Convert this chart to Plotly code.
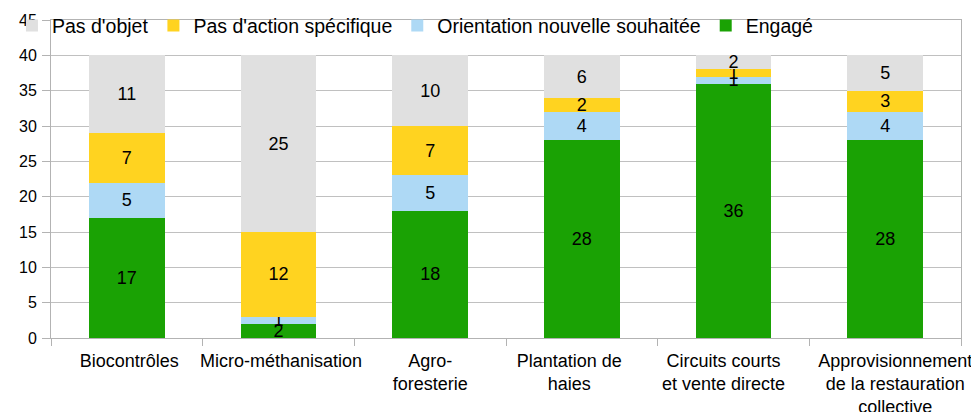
import plotly.graph_objects as go

categories = ["Biocontrôles", "Micro-méthanisation", "Agro-<br>foresterie",
              "Plantation de<br>haies", "Circuits courts<br>et vente directe",
              "Approvisionnement<br>de la restauration<br>collective"]
engage = [17, 2, 18, 28, 36, 28]
orientation = [5, 1, 5, 4, 1, 4]
pas_action = [7, 12, 7, 2, 1, 3]
pas_objet = [11, 25, 10, 6, 2, 5]

series = [
    ("Engagé", engage, "#1aa204"),
    ("Orientation nouvelle souhaitée", orientation, "#aed9f5"),
    ("Pas d'action spécifique", pas_action, "#ffd320"),
    ("Pas d'objet", pas_objet, "#e0e0e0"),
]

# label nudges (style only): (leading, trailing) non-breaking spaces per line
label_pad = [(1, 0), (1, 0), (0, 0), (0, 5), (0, 4), (4, 0)]


def padded(label, pad):
    lead, trail = pad
    return "<br>".join("&nbsp;" * lead + line + "&nbsp;" * trail
                       for line in label.split("<br>"))


ticktext = [padded(c, p) for c, p in zip(categories, label_pad)]

FONT = "Liberation Sans, Arial, sans-serif"
fig = go.Figure()
for name, vals, col in series:
    fig.add_trace(go.Bar(
        x=categories, y=vals, name=name, marker_color=col, marker_line_width=0,
        text=[str(v) for v in vals], textposition="inside", insidetextanchor="middle",
        textangle=0, textfont=dict(size=18, color="#000000", family=FONT),
        hoverinfo="skip",
    ))

fig.update_layout(
    barmode="stack", bargap=0.5,
    width=971, height=412,
    margin=dict(l=51, r=10, t=20, b=74, autoexpand=False),
    paper_bgcolor="white", plot_bgcolor="white",
    font=dict(family=FONT, size=16, color="#000000"),
    uniformtext=dict(minsize=18, mode="show"),
    legend=dict(orientation="h", traceorder="reversed", x=-0.0429, xanchor="left",
                y=1.043, yanchor="top", bgcolor="rgba(0,0,0,0)",
                font=dict(size=19.5, family=FONT, color="#000000"),
                itemwidth=30, tracegroupgap=0),
    showlegend=True,
)
fig.update_xaxes(showline=True, linecolor="#b3b3b3", linewidth=1, mirror=True,
                 ticks="outside", tickson="boundaries", ticklen=7, tickcolor="#b3b3b3",
                 tickmode="array", tickvals=categories, ticktext=ticktext,
                 tickangle=0, automargin=False, ticklabelstandoff=6,
                 tickfont=dict(size=18, family=FONT, color="#000000"), showgrid=False)
fig.update_yaxes(range=[0, 45], dtick=5, showline=True, linecolor="#b3b3b3", linewidth=1,
                 mirror=True, ticks="outside", ticklen=8, tickcolor="#b3b3b3",
                 showgrid=True, gridcolor="#c0c0c0", gridwidth=1, zeroline=False,
                 automargin=False, ticklabelstandoff=2,
                 tickfont=dict(size=16, family=FONT, color="#000000"))

fig.write_html("out.html", config={"displayModeBar": False},
               post_script="document.body.style.margin='0';document.body.style.overflow='hidden';")
